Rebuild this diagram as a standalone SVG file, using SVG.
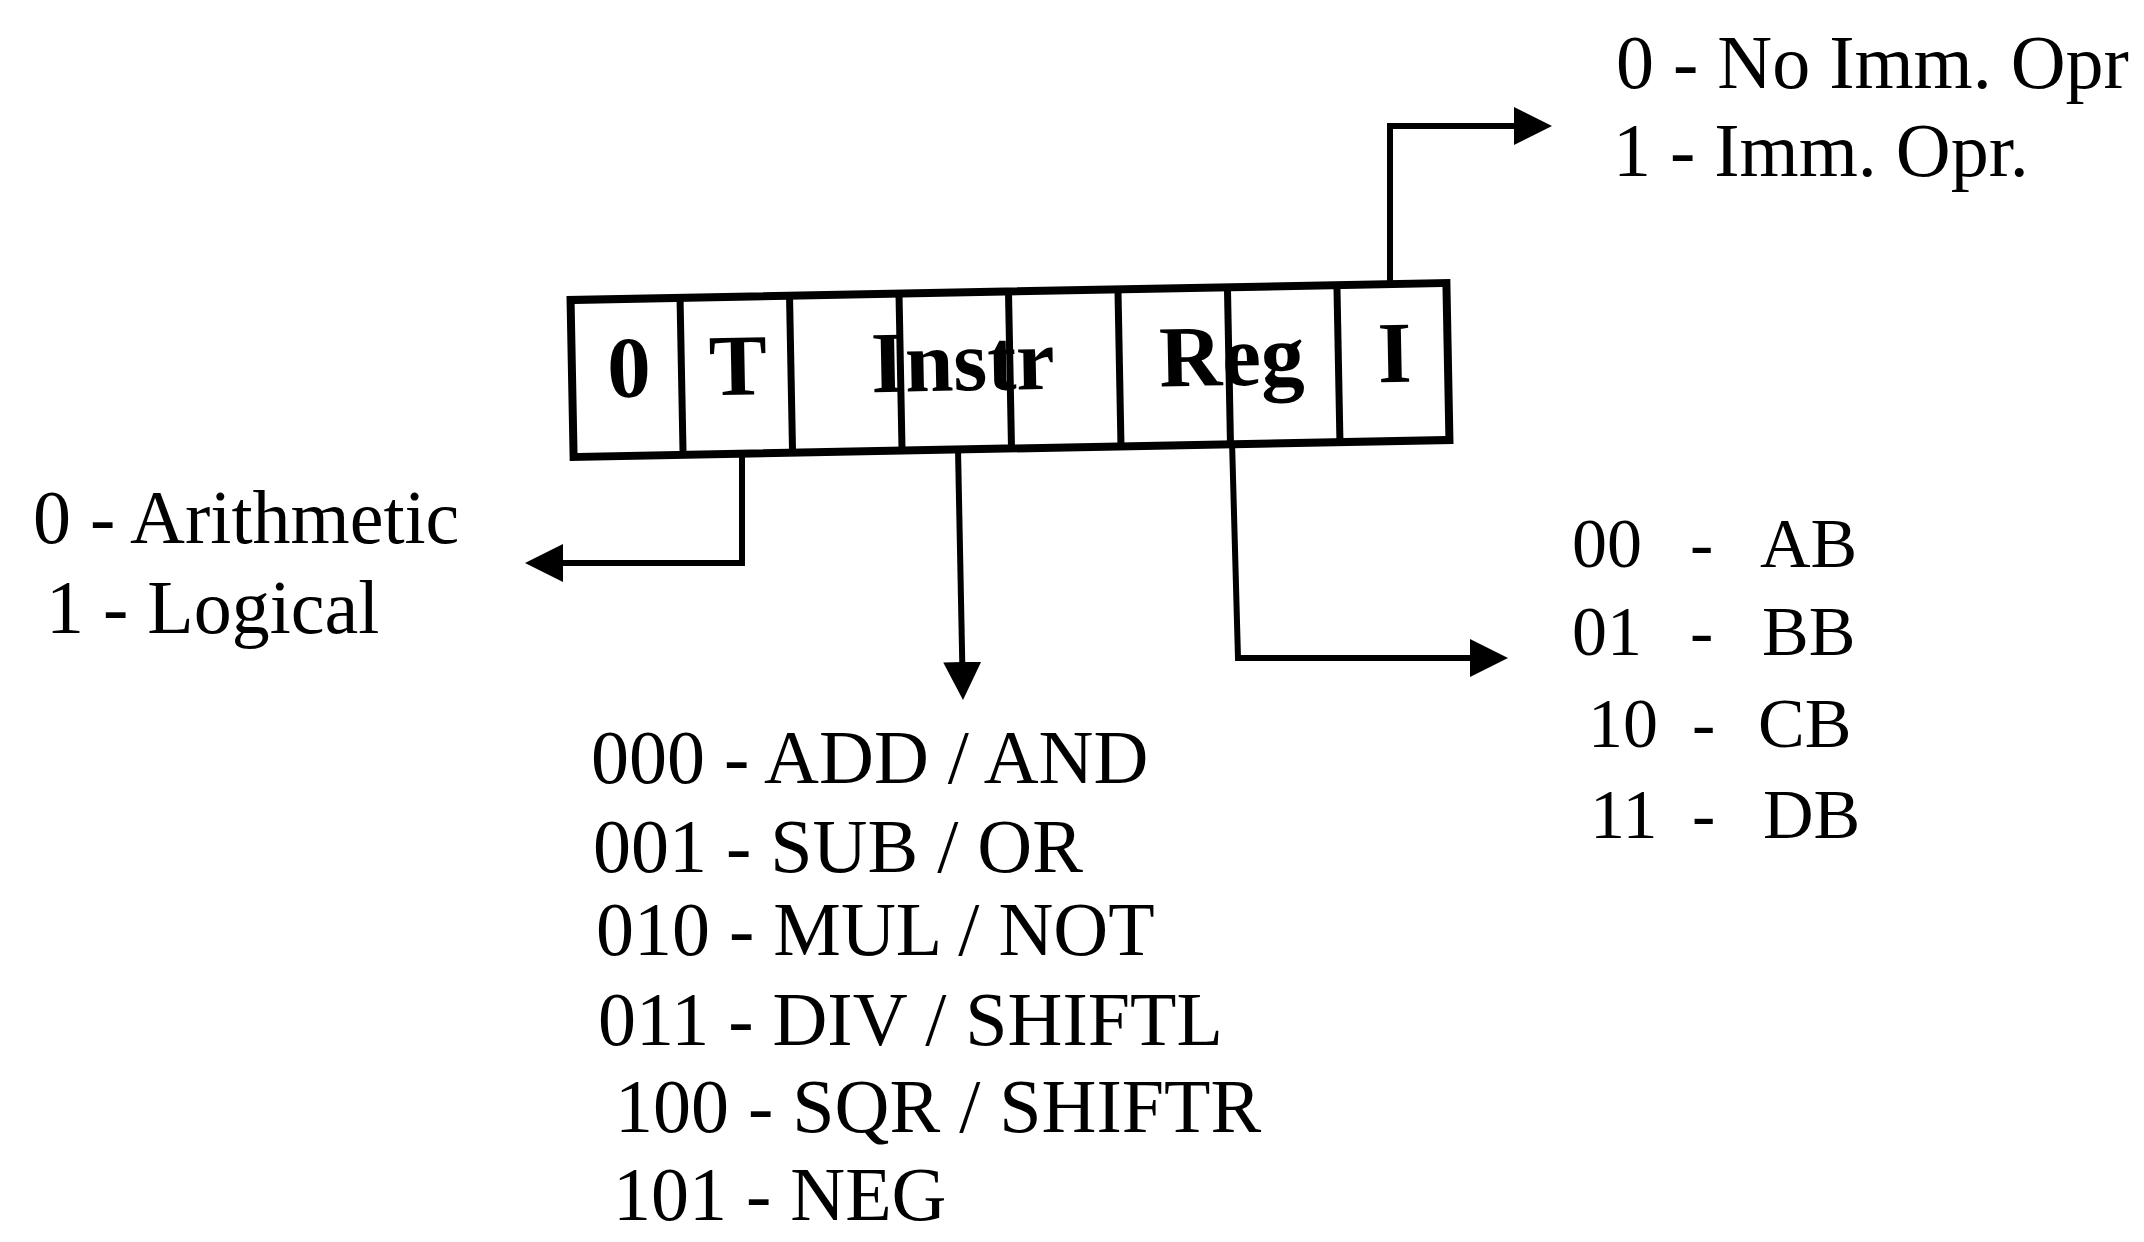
<svg xmlns="http://www.w3.org/2000/svg" width="2144" height="1242" viewBox="0 0 2144 1242">
<style>
.box{fill:none;stroke:#000;stroke-width:8;stroke-linejoin:miter}
.div{stroke:#000;stroke-width:7}
.fld{font-family:"Liberation Serif","Times New Roman",serif;font-weight:bold;font-size:87px;fill:#000}
.lbl{font-family:"Liberation Serif","Times New Roman",serif;font-size:76px;fill:#000}
.reg{font-family:"Liberation Serif","Times New Roman",serif;font-size:70px;fill:#000}
.con{fill:none;stroke:#000;stroke-width:6;stroke-linejoin:miter}
</style>
<defs>
<marker id="arr" markerUnits="userSpaceOnUse" markerWidth="40" markerHeight="40" viewBox="0 -20 40 40" refX="8" refY="0" orient="auto">
<path d="M0,-19 L38,0 L0,19 z" fill="#000"/>
</marker>
</defs>
<rect width="2144" height="1242" fill="#fff"/>
<g id="register" transform="rotate(-1.11 1010 370)">
<rect class="box" x="572" y="291.5" width="876" height="157"/>
<line class="div" x1="681.5" y1="291.5" x2="681.5" y2="448.5"/>
<line class="div" x1="791" y1="291.5" x2="791" y2="448.5"/>
<line class="div" x1="900.5" y1="291.5" x2="900.5" y2="448.5"/>
<line class="div" x1="1010" y1="291.5" x2="1010" y2="448.5"/>
<line class="div" x1="1119.5" y1="291.5" x2="1119.5" y2="448.5"/>
<line class="div" x1="1229" y1="291.5" x2="1229" y2="448.5"/>
<line class="div" x1="1338.5" y1="291.5" x2="1338.5" y2="448.5"/>
<text class="fld" x="629" y="389.5" text-anchor="middle">0</text>
<text class="fld" x="738" y="389.5" text-anchor="middle">T</text>
<text class="fld" x="963" y="389.5" text-anchor="middle">Instr</text>
<text class="fld" x="1232" y="389.5" text-anchor="middle">Reg</text>
<text class="fld" x="1395" y="389.5" text-anchor="middle">I</text>
</g>
<g id="connectors">
<path class="con" d="M1390,284 L1390,126 L1522,126" marker-end="url(#arr)"/>
<path class="con" d="M742,454 L742,563 L555,563" marker-end="url(#arr)"/>
<path class="con" d="M958,449 L962.4,670" marker-end="url(#arr)"/>
<path class="con" d="M1232,441 L1238,658 L1478,658" marker-end="url(#arr)"/>
</g>
<g id="imm-label">
<text class="lbl" x="1616" y="88" font-size="75">0 - No Imm. Opr</text>
<text class="lbl" x="1613" y="176" font-size="75">1 - Imm. Opr.</text>
</g>
<g id="type-label">
<text class="lbl" x="33" y="543" font-size="76">0 - Arithmetic</text>
<text class="lbl" x="46" y="633" font-size="75">1 - Logical</text>
</g>
<g id="instr-label">
<text class="lbl" x="591" y="783">000 - ADD / AND</text>
<text class="lbl" x="593" y="872">001 - SUB / OR</text>
<text class="lbl" x="596" y="955">010 - MUL / NOT</text>
<text class="lbl" x="598" y="1045">011 - DIV / SHIFTL</text>
<text class="lbl" x="615" y="1132">100 - SQR / SHIFTR</text>
<text class="lbl" x="613" y="1220">101 - NEG</text>
</g>
<g id="reg-label">
<text class="reg" y="567"><tspan x="1572">00</tspan><tspan x="1690">-</tspan><tspan x="1760">AB</tspan></text>
<text class="reg" y="655"><tspan x="1572">01</tspan><tspan x="1690">-</tspan><tspan x="1762">BB</tspan></text>
<text class="reg" y="747"><tspan x="1588">10</tspan><tspan x="1692">-</tspan><tspan x="1758">CB</tspan></text>
<text class="reg" y="838"><tspan x="1590">11</tspan><tspan x="1692">-</tspan><tspan x="1763">DB</tspan></text>
</g>
</svg>
